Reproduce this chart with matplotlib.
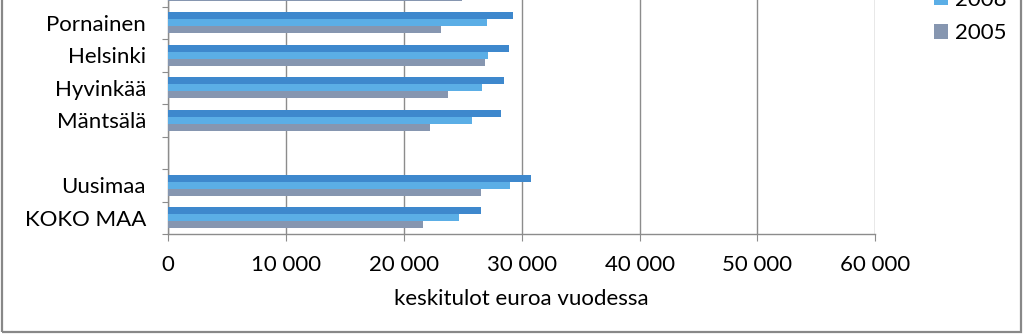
import numpy as np
import matplotlib.pyplot as plt
from matplotlib.patches import Rectangle, Patch
from matplotlib.ticker import FuncFormatter, FixedLocator

plt.rcParams['font.family'] = ['Lato', 'DejaVu Sans']

# alueet alhaalta ylös, tyhjä rivi erottaa kunnat ja vertailualueet
alueet = ["KOKO MAA", "Uusimaa", "", "Mäntsälä", "Hyvinkää", "Helsinki", "Pornainen", ""]
tulot_2011 = [26500, 30750, np.nan, 28200, 28500, 28950, 29230, np.nan]
tulot_2008 = [24650, 29000, np.nan, 25750, 26600, 27150, 27030, np.nan]
tulot_2005 = [21650, 26550, np.nan, 22200, 23700, 26850, 23150, 24900]
vuodet = ["2011", "2008", "2005"]
varit = ["#3E88CD", "#5BAEE6", "#8696B0"]

fig = plt.figure(figsize=(10.23, 3.34), dpi=100)
ax = fig.add_axes([168.3 / 1023, 100 / 334, 707 / 1023, 260 / 334])

y = np.arange(len(alueet))
h = 0.215
for sarja, dy, vari in zip([tulot_2011, tulot_2008, tulot_2005], [h, 0, -h], varit):
    ax.barh(y + dy, sarja, height=h, color=vari, zorder=3)

ax.set_xlim(0, 60000)
ax.set_ylim(-0.5, len(alueet) - 0.5)
ax.set_xticks(np.arange(0, 60001, 10000))
ax.xaxis.set_major_formatter(FuncFormatter(lambda v, p: f"{int(v):,}".replace(",", " ")))
ax.grid(axis="x", color="#8c8c8c", linewidth=1.0, zorder=0)

# väliviivat kategorioiden rajoille, nimet keskelle
ax.yaxis.set_major_locator(FixedLocator(np.arange(-0.5, len(alueet), 1.0)))
ax.yaxis.set_major_formatter(FuncFormatter(lambda v, p: ""))
ax.yaxis.set_minor_locator(FixedLocator(y))
ax.set_yticklabels(alueet, minor=True)
ax.tick_params(axis="y", which="major", length=4.5, color="#8c8c8c")
ax.tick_params(axis="y", which="minor", length=0, pad=16, labelsize=16)
ax.tick_params(axis="x", length=5, color="#8c8c8c", pad=10, labelsize=16)

for s in ["top", "right"]:
    ax.spines[s].set_visible(False)
for s in ["left", "bottom"]:
    ax.spines[s].set_color("#8c8c8c")
    ax.spines[s].set_linewidth(1.0)

ax.set_xlabel("keskitulot euroa vuodessa", fontsize=16, labelpad=10)

kahvat = [Patch(facecolor=c, edgecolor="none") for c in varit]
fig.legend(kahvat, vuodet, loc="center left", bbox_to_anchor=(934 / 1023, 1.0),
           frameon=False, fontsize=16, handlelength=0.65, handleheight=0.6,
           handletextpad=0.3, labelspacing=0.6, borderpad=0, borderaxespad=0)

# kuvan reunus
fig.patches.append(Rectangle((1.5 / 1023, 2 / 334), 1019 / 1023, 1.2,
                             transform=fig.transFigure, fill=False,
                             edgecolor="#888888", linewidth=1.6))

fig.savefig("out.png", dpi=100)
